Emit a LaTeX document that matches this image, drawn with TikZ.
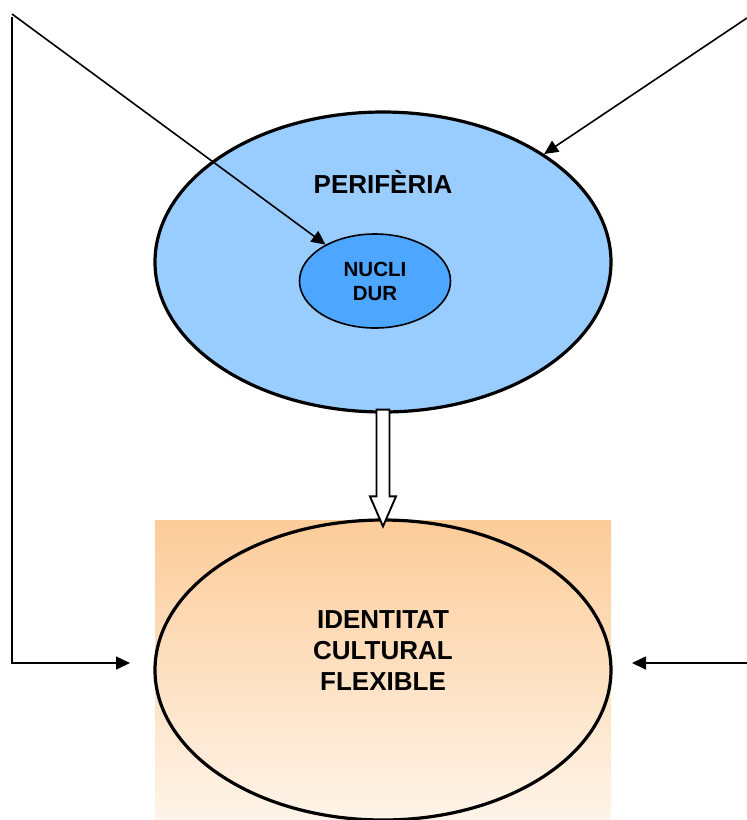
\documentclass[tikz,border=0pt]{standalone}
\usepackage{fontspec}
\setmainfont{Liberation Sans}
\usetikzlibrary{arrows.meta, shapes.geometric, calc}

\definecolor{periblau}{RGB}{153,204,255}
\definecolor{nucliblau}{RGB}{77,166,255}
\definecolor{taronjaalt}{RGB}{252,204,153}
\definecolor{taronjabaix}{RGB}{254,244,233}

\begin{document}
\begin{tikzpicture}[x=1pt, y=-1pt, >={Triangle[length=14pt, width=13pt]},
    every node/.style={align=center, inner sep=0pt},
    elipsegran/.style={draw, ellipse, line width=3.2pt, minimum width=456pt, minimum height=300pt},
    titol/.style={font=\fontsize{26}{31}\selectfont\bfseries},
    fletxa/.style={->, line width=1.6pt}]
        \useasboundingbox (0,0) rectangle (747,820);

        % Fons degradat de la identitat
        \node[minimum width=456pt, minimum height=300pt, top color=taronjaalt, bottom color=taronjabaix] (fons) at (383,670) {};

        % Perifèria
        \node[elipsegran, fill=periblau] (peri) at (383,262) {};
        \node[titol] (titolperi) at (383,182) {PERIFÈRIA};

        % Nucli dur
        \node[draw, ellipse, line width=1.6pt, fill=nucliblau, minimum width=151pt, minimum height=94pt,
              font=\fontsize{20.5}{24}\selectfont\bfseries] (nucli) at (375,281) {NUCLI\\DUR};

        % Identitat cultural flexible
        \node[elipsegran] (ident) at (383,670) {};
        \node[titol] (titolident) at (383,651) {IDENTITAT\\CULTURAL\\FLEXIBLE};

        % Extrems lliures de les fletxes
        \coordinate (sup_esq) at (12,14);
        \coordinate (cant_esq) at (12,663);
        \coordinate (punta_esq) at (130,663);
        \coordinate (sup_dre) at (747,18);
        \coordinate (inici_dre) at (747,663);
        \coordinate (punta_dre) at (632,663);

        % Fletxes exteriors
        \draw[fletxa] (sup_esq) -- (nucli);
        \draw[fletxa] (sup_dre) -- (peri);
        \draw[fletxa] ($(sup_esq)+(0,3)$) -- (cant_esq) -- (punta_esq);
        \draw[fletxa] (inici_dre) -- (punta_dre);

        % Fletxa buida de la perifèria a la identitat
        \draw[line width=1.9pt, fill=white, line join=miter]
            ($(peri.south)+(-6.5,-4)$) -- ($(ident.north)+(-6.5,-22)$) -- ($(ident.north)+(-13,-22)$)
            -- ($(ident.north)+(0,8)$)
            -- ($(ident.north)+(13,-22)$) -- ($(ident.north)+(6.5,-22)$) -- ($(peri.south)+(6.5,-4)$) -- cycle;

    \end{tikzpicture}
\end{document}
